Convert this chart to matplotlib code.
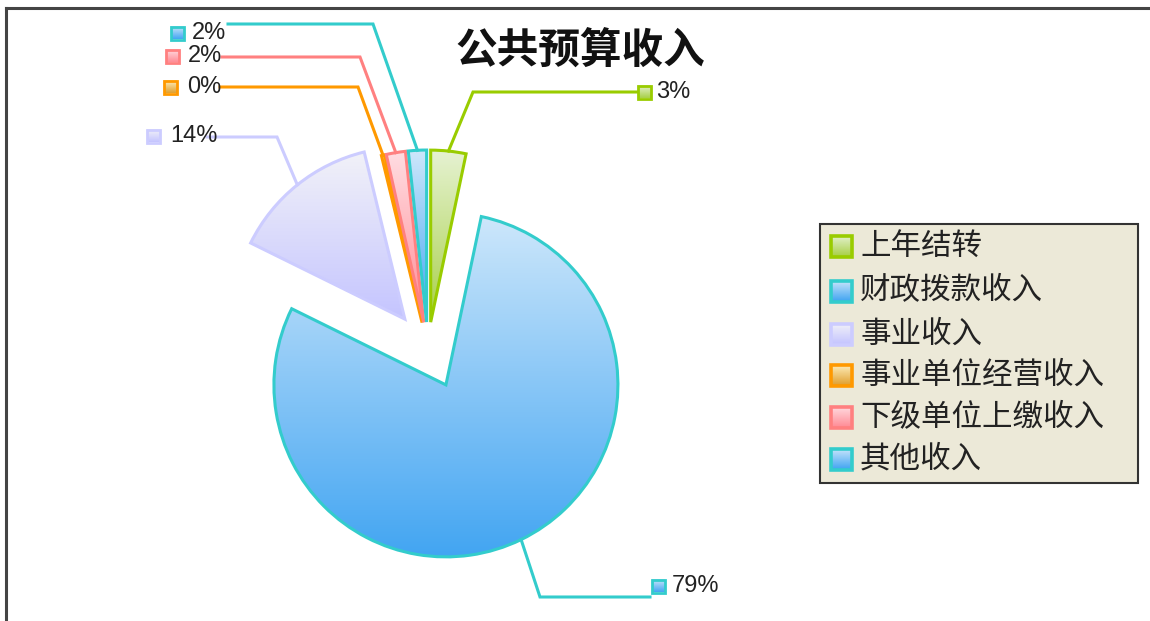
import numpy as np
import matplotlib.pyplot as plt
from matplotlib.colors import LinearSegmentedColormap
from matplotlib.patches import Rectangle

W, H = 1150, 621

title = "公共预算收入"
categories = ["上年结转", "财政拨款收入", "事业收入", "事业单位经营收入", "下级单位上缴收入", "其他收入"]
values = [3.3, 79.0, 13.9, 0.3, 1.8, 1.7]

edge_colors = ["#99cc00", "#33cccc", "#ccccff", "#ff9900", "#ff8080", "#33cccc"]
top_colors = ["#e6f2d2", "#cde7fb", "#f2f2f8", "#fff0c0", "#ffdde2", "#cde7fb"]
bottom_colors = ["#a8d048", "#42a5f2", "#c4c4ff", "#e0a030", "#ff8c96", "#42a5f2"]
# pie explode is in data units (pixels here)
explode = [26, 41, 37, 26, 26, 26]

# label layout, pixel coords: (elbow x, elbow y, line end x, marker x, marker y, text x)
label_layout = [
    (473, 92, 637, 644, 92, 656),
    (540, 597, 650, 658, 586, 672),
    (277, 137, 207, 153, 136, 170),
    (358, 87, 220, 170, 87, 187),
    (360, 57, 222, 172, 56, 188),
    (373, 24, 228, 177, 33, 192),
]


def Y(y):
    # pixel row -> data y
    return H - y


def gradient(ax, extent, c_top, c_bottom, clip=None, zorder=2):
    cmap = LinearSegmentedColormap.from_list("g", [c_bottom, c_top])
    grad = np.linspace(0, 1, 256).reshape(-1, 1)
    im = ax.imshow(grad, cmap=cmap, extent=extent, origin="lower",
                   aspect="auto", interpolation="bilinear", zorder=zorder)
    if clip is not None:
        im.set_clip_path(clip)
    return im


def square(ax, cx, cy, size, ec, c_top, c_bottom, lw):
    x0, y0 = cx - size / 2, Y(cy) - size / 2
    gradient(ax, (x0, x0 + size, y0, y0 + size), c_top, c_bottom, zorder=5)
    ax.add_patch(Rectangle((x0, y0), size, size, fc="none", ec=ec, lw=lw, zorder=6))


fig = plt.figure(figsize=(W / 100, H / 100), dpi=100)
ax = fig.add_axes([0, 0, 1, 1])
ax.set_axis_off()

wedges, _ = ax.pie(values, explode=explode, center=(428, Y(348)), radius=172,
                   startangle=90, counterclock=False, frame=False,
                   wedgeprops=dict(linewidth=2.2, joinstyle="miter"))

for w, ec, ct, cb in zip(wedges, edge_colors, top_colors, bottom_colors):
    w.set_facecolor("none")
    w.set_edgecolor(ec)
    w.set_zorder(3)
    bb = w.get_path().get_extents(w.get_patch_transform())
    gradient(ax, (bb.x0, bb.x1, bb.y0, bb.y1), ct, cb, clip=w, zorder=2)

# leader lines and percentage labels
for w, v, ec, ct, cb, lay in zip(wedges, values, edge_colors, top_colors,
                                  bottom_colors, label_layout):
    ex, ey, endx, mx, my, tx = lay
    mid = np.deg2rad((w.theta1 + w.theta2) / 2)
    sx = w.center[0] + w.r * np.cos(mid)
    sy = w.center[1] + w.r * np.sin(mid)
    ax.plot([sx, ex, endx], [sy, Y(ey), Y(ey)], color=ec, lw=2.2,
            solid_joinstyle="miter", zorder=4)
    square(ax, mx, my, 13, ec, ct, cb, 2.0)
    ax.text(tx, Y(my), f"{v:.0f}%", fontsize=17, family="Liberation Sans",
            color="#222222", ha="left", va="center", zorder=7)

# title
ax.text(580, Y(51), title, fontsize=30, fontweight="bold",
        family=["Noto Sans CJK SC", "DejaVu Sans"], ha="center", va="center",
        color="#111111", zorder=7)

# legend box
ax.add_patch(Rectangle((820, Y(483)), 318, 259, fc="#ece9d8", ec="#333333",
                       lw=1.5, zorder=4))
row_y = [246, 291, 334, 375, 417, 459]
for name, ry, ec, ct, cb in zip(categories, row_y, edge_colors, top_colors, bottom_colors):
    square(ax, 841, ry, 21, ec, ct, cb, 2.6)
    ax.text(860, Y(ry), name, fontsize=22, family=["Noto Sans CJK SC", "DejaVu Sans"],
            color="#222222", ha="left", va="center", zorder=7)

# frame lines at top and left
ax.plot([6, W], [Y(8), Y(8)], color="#444444", lw=2.2, zorder=8)
ax.plot([6, 6], [Y(8), 0], color="#444444", lw=2.2, zorder=8)

ax.set_xlim(0, W)
ax.set_ylim(0, H)
ax.set_aspect("auto")

fig.savefig("out.png", dpi=100)
